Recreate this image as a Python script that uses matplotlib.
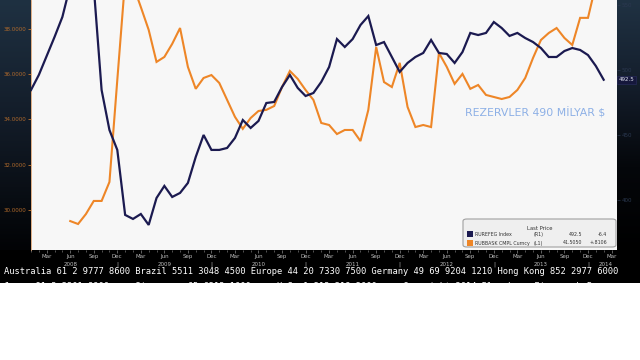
import numpy as np
import matplotlib
matplotlib.use("Agg")
import matplotlib.pyplot as plt
from matplotlib.patches import FancyBboxPatch, Rectangle
from matplotlib.colors import LinearSegmentedColormap
import matplotlib.transforms as mtransforms

# ---------------- data (monthly, index 0 = Jan 2008) ----------------
reserves = [484.6, 496.2, 510.8, 525.4, 540.8, 565.0, 585.0, 590.0, 564.0, 484.6,
            453.8, 438.5, 388.5, 385.4, 389.2, 380.8, 401.5, 410.8, 402.3, 405.4,
            413.1, 433.1, 450.0, 438.5, 438.5, 440.0, 447.7, 461.5, 455.4, 460.8,
            474.6, 475.4, 486.9, 496.2, 486.2, 480.0, 482.3, 490.8, 502.3, 523.8,
            517.7, 523.8, 534.6, 541.5, 519.2, 521.5, 510.0, 498.5, 505.4, 510.0,
            513.1, 523.1, 513.1, 512.3, 505.4, 513.8, 528.5, 526.9, 528.5, 536.9,
            532.3, 526.2, 528.5, 524.6, 521.5, 516.9, 510.0, 510.0, 514.6, 516.9,
            515.4, 511.5, 503.1, 492.5]
basket = [np.nan] * 5 + [
            29.50, 29.37, 29.81, 30.39, 30.39, 31.23, 35.74, 40.17, 39.95, 38.97,
            37.96, 36.54, 36.76, 37.34, 38.04, 36.32, 35.35, 35.83, 35.96, 35.61,
            34.86, 34.11, 33.58, 34.06, 34.37, 34.42, 34.59, 35.43, 36.14, 35.79,
            35.30, 34.86, 33.84, 33.75, 33.35, 33.53, 33.53, 33.04, 34.42, 37.20,
            35.65, 35.43, 36.50, 34.55, 33.66, 33.75, 33.66, 36.94, 36.32, 35.57,
            36.01, 35.35, 35.52, 35.08, 34.99, 34.90, 34.99, 35.30, 35.83, 36.72,
            37.51, 37.82, 38.04, 37.60, 37.29, 38.49, 38.49, 39.95, 41.505]
month_names = ["Mar", "Jun", "Sep", "Dec"]
years = ["2008", "2009", "2010", "2011", "2012", "2013", "2014"]
left_ticks = [30, 32, 34, 36, 38]
right_ticks = [400, 450, 500, 550]
annotation = "REZERVLER 490 MİLYAR $"
footer1 = "Australia 61 2 9777 8600 Brazil 5511 3048 4500 Europe 44 20 7330 7500 Germany 49 69 9204 1210 Hong Kong 852 2977 6000"
footer2 = "Japan 81 3 3201 8900     Singapore 65 6212 1000     U.S. 1 212 318 2000     Copyright 2014 Bloomberg Finance L.P."

W, H = 640, 360
def fx(px): return px / W
def fy(py): return 1 - py / H

fig = plt.figure(figsize=(6.4, 3.6), dpi=100)
fig.patch.set_facecolor("white")

def blank(a):
    a.set_xticks([]); a.set_yticks([])
    for s in a.spines.values():
        s.set_visible(False)

# bottom black band
band = fig.add_axes([0, fy(283), 1, (283 - 250) / H])
band.set_facecolor("black"); blank(band)
band.set_xlim(0, 1); band.set_ylim(0, 1)
band.text(fx(4), 0.36, footer1, family="DejaVu Sans Mono", fontsize=6.3,
          color="white", ha="left", va="center", clip_on=True)
band.text(fx(4), -0.1, footer2, family="DejaVu Sans Mono", fontsize=6.3,
          color="white", ha="left", va="center", clip_on=True)

grad = np.linspace(0, 1, 256).reshape(-1, 1)
# left dark panel
lp = fig.add_axes([0, fy(250), fx(31), 250 / H]); blank(lp)
cm_l = LinearSegmentedColormap.from_list("l", ["#1f3142", "#121b27", "#020305"])
lp.imshow(grad, cmap=cm_l, aspect="auto", extent=[0, 1, 0, 1])
# right dark panel
rp = fig.add_axes([fx(617), fy(250), fx(23), 250 / H]); blank(rp)
cm_r = LinearSegmentedColormap.from_list("r", ["#203243", "#141e2c", "#05070b", "#000000"])
rp.imshow(grad, cmap=cm_r, aspect="auto", extent=[0, 1, 0, 1])

# main axes
ax = fig.add_axes([fx(31), fy(250), fx(617 - 31), 250 / H])
ax.set_facecolor("#f7f7f7")
for k in ["top", "right", "bottom"]:
    ax.spines[k].set_visible(False)
ax.spines["left"].set_color("#d8a070"); ax.spines["left"].set_linewidth(0.6)

x = np.arange(len(reserves))
ax.plot(x, basket, color="#ee8627", lw=1.5, solid_joinstyle="miter")
ax.set_xlim(0, 74.7)
ax.set_ylim(28.22, 39.28)
ax.set_yticks(left_ticks)
ax.set_yticklabels([f"{v:.4f}" for v in left_ticks])
ax.tick_params(axis="y", colors="#c07530", labelsize=4, length=2, width=0.6, pad=1.5,
               labelcolor="#b06a2c")

# x ticks: quarterly labels, monthly minor ticks
qt = np.arange(2, 75, 3)
ax.set_xticks(qt)
ax.set_xticklabels([month_names[(i - 2) // 3 % 4] for i in qt])
ax.set_xticks(np.arange(0, 75, 1), minor=True)
ax.tick_params(axis="x", which="major", colors="#888888", labelcolor="#bdbdbd",
               labelsize=4, length=2, pad=1.0, width=0.5)
ax.tick_params(axis="x", which="minor", colors="#777777", length=1.5, width=0.5)
trans = mtransforms.blended_transform_factory(ax.transData, ax.transAxes)
for k, yr in enumerate(years[:-1]):
    ax.text(5 + 12 * k, -0.058, yr, transform=trans, fontsize=4, color="#bdbdbd",
            ha="center", va="center", clip_on=False)
    ax.text(11 + 12 * k, -0.058, "|", transform=trans, fontsize=4, color="#bdbdbd",
            ha="center", va="center", clip_on=False)
ax.text(73.2, -0.058, years[-1], transform=trans, fontsize=4, color="#bdbdbd",
        ha="center", va="center", clip_on=False)

ax.text((605 - 31) / 586, 0.55, annotation, transform=ax.transAxes, fontsize=7.8,
        color="#8db0e6", ha="right", va="center")

# right axis
ax2 = ax.twinx()
for s in ax2.spines.values():
    s.set_visible(False)
ax2.plot(x, reserves, color="#1b1a50", lw=1.6, solid_joinstyle="miter")
ax2.set_ylim(361.5, 553.85)
ax2.set_yticks(right_ticks)
ax2.set_yticklabels([str(v) for v in right_ticks])
ax2.tick_params(axis="y", colors="#2b3850", labelsize=4, length=2, width=0.5, pad=1.5)
ax2.text(1.003, reserves[-1], f"{reserves[-1]:.1f}",
         transform=mtransforms.blended_transform_factory(ax2.transAxes, ax2.transData),
         fontsize=4, color="#e0e4f0", ha="left", va="center", clip_on=False,
         bbox=dict(boxstyle="square,pad=0.25", fc="#15173c", ec="#2a2f60", lw=0.4))

# legend box
box = FancyBboxPatch((fx(463), fy(247)), fx(153), (247 - 219) / H,
                     boxstyle="round,pad=0,rounding_size=0.006",
                     transform=fig.transFigure, fc="#efefef", ec="#a0a0a0", lw=0.8)
fig.add_artist(box)
fig.text(fx(540), fy(228), "Last Price", fontsize=3.8, color="#333333",
         ha="center", va="center")
rows = [("#1b1a50", "RUREFEG Index", "(R1)", "492.5", "-6.4", 234),
        ("#ee8627", "RUBBASK CMPL Curncy", "(L1)", "41.5050", "+.8106", 242.5)]
for col, name, side, last, chg, py in rows:
    fig.add_artist(Rectangle((fx(467), fy(py + 3)), fx(6), 6 / H,
                             transform=fig.transFigure, fc=col, ec="none"))
    fig.text(fx(475), fy(py), name, fontsize=3.4, color="#333333", ha="left", va="center_baseline")
    fig.text(fx(534), fy(py), side, fontsize=3.4, color="#333333", ha="left", va="center_baseline")
    fig.text(fx(582), fy(py), last, fontsize=3.4, color="#333333", ha="right", va="center_baseline")
    fig.text(fx(607), fy(py), chg, fontsize=3.4, color="#333333", ha="right", va="center_baseline")

fig.savefig("out.png", dpi=100, facecolor="white")
